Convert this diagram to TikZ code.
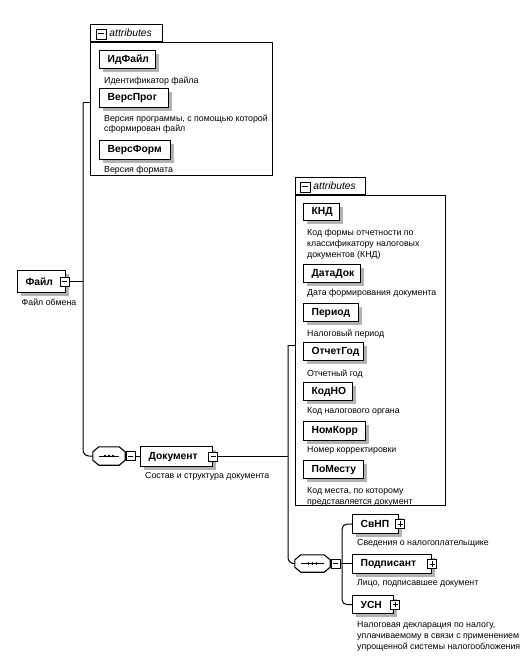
\documentclass[tikz,border=0pt]{standalone}
\usepackage{fontspec}
\setmainfont{Liberation Sans}
\usetikzlibrary{shadows}
\newcommand\drawoct[1]{%
  \fill[gray!60, shift={(3pt,-3pt)}] ([xshift=6pt]#1.north west) -- ([xshift=-6pt]#1.north east) -- ([yshift=-5pt]#1.north east) -- ([yshift=5pt]#1.south east) -- ([xshift=-6pt]#1.south east) -- ([xshift=6pt]#1.south west) -- ([yshift=5pt]#1.south west) -- ([yshift=-5pt]#1.north west) -- cycle;
  \draw[line width=1.1pt, fill=white] ([xshift=6pt]#1.north west) -- ([xshift=-6pt]#1.north east) -- ([yshift=-5pt]#1.north east) -- ([yshift=5pt]#1.south east) -- ([xshift=-6pt]#1.south east) -- ([xshift=6pt]#1.south west) -- ([yshift=5pt]#1.south west) -- ([yshift=-5pt]#1.north west) -- cycle;
  \draw[line width=1pt] ([xshift=6pt]#1.west) -- ([xshift=-6pt]#1.east);
  \fill (#1.center) circle (1.4pt) ([xshift=-4pt]#1.center) circle (1.4pt) ([xshift=4pt]#1.center) circle (1.4pt);}
\begin{document}
\begin{tikzpicture}[x=1pt,y=-1pt,
  conn/.style={line width=1pt},
  shad/.style={drop shadow={shadow xshift=3pt, shadow yshift=-3.5pt, fill=gray!60, opacity=1}},
  elem/.style={draw, line width=1.2pt, fill=white, anchor=north west, inner xsep=8pt, inner ysep=0pt,
    align=left, font=\fontsize{10.3}{12}\selectfont\bfseries, shad},
  grp/.style={draw, line width=0.9pt, fill=white, anchor=north west, inner sep=0pt},
  tabbox/.style={draw, line width=0.9pt, fill=white, anchor=south west, inner xsep=0pt, inner ysep=0pt,
    align=left, font=\fontsize{10.3}{12}\selectfont\itshape},
  pm/.style={draw, fill=white, line width=0.9pt, minimum size=9pt, inner sep=0pt},
  minus/.style={pm, path picture={\draw[line width=1pt] ([xshift=1.8pt]path picture bounding box.west) -- ([xshift=-1.8pt]path picture bounding box.east);}},
  plus/.style={pm, path picture={\draw[line width=1pt] ([xshift=1.8pt]path picture bounding box.west) -- ([xshift=-1.8pt]path picture bounding box.east);
      \draw[line width=1pt] ([yshift=-1.8pt]path picture bounding box.north) -- ([yshift=1.8pt]path picture bounding box.south);}},
  seq/.style={inner sep=0pt},
  lab/.style={anchor=north west, inner sep=0pt, align=left, font=\fontsize{8.8}{10.8}\selectfont}
]
\useasboundingbox (0,0) rectangle (529,660);
\fill[white] (0,0) rectangle (529,660);

% ---------- group 1 ----------
\node[grp, minimum width=182pt, minimum height=133pt] (grp1) at (90,42) {};
\node[tabbox, minimum width=72pt, minimum height=17pt, text width=72pt] (tab1) at (grp1.north west) {\hspace*{19pt}attributes};
\node[minus, minimum size=10pt] (tab1m) at (101,34) {};

\node[elem, minimum height=18pt, text width=40pt] (idf) at (99,50) {ИдФайл};
\node[lab] (idfl) at (104,76.4) {Идентификатор файла};
\node[elem, minimum height=19pt, text width=53pt] (vprog) at (99,88) {ВерсПрог};
\node[lab] (vprogl) at (104,114.4) {Версия программы, с помощью которой\\сформирован файл};
\node[elem, minimum height=19pt, text width=55pt] (vform) at (99,140) {ВерсФорм};
\node[lab] (vforml) at (104,166.4) {Версия формата};

% ---------- root ----------
\node[elem, minimum height=22pt, text width=32pt] (file) at (17,270) {Файл};
\node[minus] (filem) at ([xshift=-1.5pt]file.east) {};
\node[lab, anchor=north] (filel) at (49,298.4) {Файл обмена};

% ---------- sequence 1 / Документ ----------
\node[seq, minimum width=32pt, minimum height=18pt] (seq1) at (109,456) {};
\drawoct{seq1}
\node[minus] (seq1m) at ([xshift=5.5pt]seq1.east) {};
\node[elem, minimum height=20pt, text width=56pt] (doc) at (140,446) {Документ};
\node[minus] (docm) at (doc.east) {};
\node[lab] (docl) at (145,472.4) {Состав и структура документа};

% ---------- group 2 ----------
\node[grp, minimum width=150pt, minimum height=310pt] (grp2) at (295,195) {};
\node[tabbox, minimum width=70pt, minimum height=17pt, text width=70pt] (tab2) at (grp2.north west) {\hspace*{18pt}attributes};
\node[minus, minimum size=10pt] (tab2m) at (305,187) {};

\node[elem, minimum height=17pt, text width=20pt] (knd) at (303,203) {КНД};
\node[lab] (kndl) at (307,229.4) {Код формы отчетности по\\классификатору налоговых\\документов (КНД)};
\node[elem, minimum height=18pt, text width=41pt] (datadok) at (303,264) {ДатаДок};
\node[lab] (datadokl) at (307,289.4) {Дата формирования документа};
\node[elem, minimum height=18pt, text width=39pt] (period) at (303,303) {Период};
\node[lab] (periodl) at (307,329.4) {Налоговый период};
\node[elem, minimum height=18pt, text width=44pt] (otchgod) at (303,342) {ОтчетГод};
\node[lab] (otchgodl) at (307,369.4) {Отчетный год};
\node[elem, minimum height=18pt, text width=33pt] (kodno) at (303,382) {КодНО};
\node[lab] (kodnol) at (307,407.4) {Код налогового органа};
\node[elem, minimum height=19pt, text width=46pt] (nomkorr) at (303,421) {НомКорр};
\node[lab] (nomkorrl) at (307,446.4) {Номер корректировки};
\node[elem, minimum height=18pt, text width=44pt] (pomestu) at (303,460) {ПоМесту};
\node[lab] (pomestul) at (307,487.4) {Код места, по которому\\представляется документ};

% ---------- sequence 2 ----------
\node[seq, minimum width=35pt, minimum height=17pt] (seq2) at (312.5,563.5) {};
\drawoct{seq2}
\node[minus] (seq2m) at ([xshift=5.5pt]seq2.east) {};

\node[elem, minimum height=19pt, text width=30pt] (svnp) at (352,514) {СвНП};
\node[plus] (svnpp) at ([xshift=1pt]svnp.east) {};
\node[lab] (svnpl) at (357,539.4) {Сведения о налогоплательщике};
\node[elem, minimum height=19pt, text width=63pt] (podp) at (352,554) {Подписант};
\node[plus] (podpp) at (podp.east) {};
\node[lab] (podpl) at (357,579.4) {Лицо, подписавшее документ};
\node[elem, minimum height=18pt, text width=25pt] (usn) at (352,595) {УСН};
\node[plus] (usnp) at ([xshift=1pt]usn.east) {};
\node[lab] (usnl) at (357,621.4) {Налоговая декларация по налогу,\\уплачиваемому в связи с применением\\упрощенной системы налогообложения};

% ---------- connectors ----------
\coordinate (t1) at (83,103);
\coordinate (t2) at (288,345);
\coordinate (t3) at (342,563.5);
\draw[conn] (filem.east) -- (filem.east -| t1);
\draw[conn] (t1 -| grp1.west) -- (t1);
\draw[conn, rounded corners=6pt] (t1) |- (seq1.west);
\draw[conn] (seq1m.east) -- (seq1m.east -| doc.west);
\draw[conn] (docm.east) -- (docm.east -| t2);
\draw[conn] (t2 -| grp2.west) -- (t2);
\draw[conn, rounded corners=6pt] (t2) |- (seq2.west);
\draw[conn] (seq2m.east) -- (seq2m.east -| podp.west);
\draw[conn, rounded corners=5pt] (svnp.west) -| (t3) |- (usn.west);
\end{tikzpicture}
\end{document}
